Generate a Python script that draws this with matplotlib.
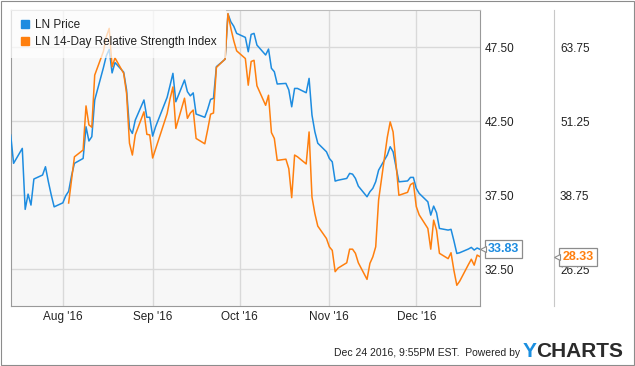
import matplotlib
matplotlib.use('Agg')
import matplotlib.pyplot as plt
from matplotlib.lines import Line2D
from matplotlib.patches import Rectangle
from matplotlib.transforms import blended_transform_factory, offset_copy
import numpy as np
import pandas as pd

plt.rcParams['font.family'] = ['Liberation Sans', 'DejaVu Sans']

BLUE = '#1d8ce0'
ORANGE = '#ff7f0e'
GRID = '#d9d9d9'
TEXT = '#222222'

# trading days, Jul 14 - Dec 23 2016 (Labor Day and Thanksgiving closed)
days = pd.bdate_range('2016-07-14', '2016-12-23')
days = days.drop(pd.to_datetime(['2016-09-05', '2016-11-24']))

price = [
    # Jul
    41.55, 39.64, 40.65, 36.53, 37.56, 36.82, 38.58, 38.85, 39.41, 38.40, 37.50, 36.70,
    # Aug
    36.97, 37.45, 37.75, 38.80, 39.64, 39.97, 42.11, 41.15, 41.44, 43.92, 46.10, 46.90,
    47.34, 45.75, 46.45, 45.80, 44.60, 42.00, 41.66, 42.56, 43.92, 42.75, 42.75,
    # Sep
    41.48, 42.10, 44.10, 44.90, 45.72, 43.80, 45.27, 44.48, 44.20, 44.40, 42.97, 42.75,
    43.30, 43.96, 44.03, 46.17, 46.67, 49.73, 49.20, 48.90, 48.42,
    # Oct
    48.15, 47.18, 48.35, 48.42, 47.63, 46.96, 47.36, 46.06, 45.83, 45.00, 45.04, 44.60,
    43.46, 44.70, 44.70, 44.41, 45.38, 42.90, 41.77, 41.00, 40.42,
    # Nov
    39.97, 39.74, 38.44, 38.50, 38.62, 38.96, 38.91, 38.62, 38.10, 37.38, 37.72, 37.95,
    38.40, 39.18, 40.20, 40.76, 40.42, 38.39, 38.45, 38.69, 38.69,
    # Dec
    37.95, 37.61, 37.04, 36.14, 36.75, 36.30, 35.24, 35.13, 35.18, 34.40, 33.55, 33.60,
    33.85, 33.96, 33.78, 33.92, 33.83,
]

rsi = [
    # Jul
    np.nan, np.nan, np.nan, np.nan, np.nan, np.nan, np.nan, np.nan, np.nan, np.nan, np.nan, np.nan,
    # Aug
    np.nan, np.nan, 37.4, 41.3, 45.2, 46.35, 53.8, 50.6, 50.2, 59.0, 63.0, 65.5,
    66.9, 60.4, 61.9, 59.3, 55.9, 47.5, 45.5, 48.9, 52.8, 49.0, 48.9,
    # Sep
    45.0, 46.5, 52.5, 55.0, 57.0, 50.0, 55.1, 51.7, 52.6, 53.1, 48.3, 47.4,
    49.8, 52.4, 52.6, 60.3, 61.7, 69.4, 66.9, 64.8, 63.1,
    # Oct
    61.8, 57.3, 61.3, 61.5, 57.2, 53.9, 55.6, 49.3, 48.3, 44.6, 44.8, 43.2,
    38.3, 45.5, 45.2, 44.0, 49.4, 38.4, 35.6, 33.5, 31.4,
    # Nov
    30.0, 29.4, 25.8, 26.4, 27.3, 29.6, 29.6, 28.9, 27.3, 24.5, 27.2, 28.3,
    30.0, 37.9, 48.5, 51.1, 49.4, 38.7, 39.2, 40.5, 40.8,
    # Dec
    36.8, 35.4, 33.1, 29.6, 34.5, 32.8, 28.9, 28.0, 29.0, 26.0, 23.5, 24.2,
    27.0, 27.9, 26.9, 28.6, 28.33,
]

month_ticks = pd.to_datetime(['2016-08-01', '2016-09-01', '2016-10-01', '2016-11-01', '2016-12-01'])
month_labels = ["Aug '16", "Sep '16", "Oct '16", "Nov '16", "Dec '16"]
price_ticks = [32.5, 37.5, 42.5, 47.5]
rsi_ticks = [26.25, 38.75, 51.25, 63.75]

W, H = 635, 366
fig = plt.figure(figsize=(W / 100, H / 100), dpi=100)
ax = fig.add_axes([10.7 / W, 1 - 306 / H, (480 - 10.7) / W, (306 - 10) / H])
ax.set_facecolor('#f7f7f7')
ax2 = ax.twinx()

ax.plot(days, price, color=BLUE, lw=1.1, zorder=3)
ax.set_xlim(pd.Timestamp('2016-07-14'), pd.Timestamp('2016-12-23'))
ax.set_ylim(30, 50)
ax.set_xticks(month_ticks)
ax.set_xticklabels(month_labels)
ax.yaxis.tick_right()
ax.set_yticks(price_ticks)
ax.set_yticklabels(['%.2f' % t for t in price_ticks])
ax.tick_params(axis='x', length=0, pad=3.5, labelsize=8.5, colors=TEXT)
ax.tick_params(axis='y', length=0, pad=3.6, labelsize=8.5, colors=TEXT)
ax.grid(color=GRID, lw=1)
ax.set_axisbelow(True)
for side in ['left', 'bottom', 'right']:
    ax.spines[side].set_color('#999999')
ax.spines['top'].set_color('#bbbbbb')

ax2.plot(days, rsi, color=ORANGE, lw=1.1)
ax2.set_ylim(20, 70)
ax2.set_yticks(rsi_ticks)
ax2.set_yticklabels(['%.2f' % t for t in rsi_ticks])
ax2.tick_params(axis='y', length=0, pad=4.3, labelsize=8.5, colors=TEXT)
for side in ['left', 'bottom', 'top']:
    ax2.spines[side].set_visible(False)
ax2.spines['right'].set_position(('outward', 53.3))
ax2.spines['right'].set_color('#c8c8c8')

handles = [Line2D([], [], marker='s', ls='none', color=BLUE, markersize=5.5),
           Line2D([], [], marker='s', ls='none', color=ORANGE, markersize=5.5)]
leg = ax2.legend(handles, ['LN Price', 'LN 14-Day Relative Strength Index'],
                 loc='upper left', bbox_to_anchor=(0, 1), borderaxespad=0,
                 fontsize=8.5, frameon=True, framealpha=0.7, facecolor='white',
                 edgecolor='none', fancybox=False, handletextpad=0.45,
                 labelspacing=0.4, borderpad=0.8, handlelength=0.8)
for t in leg.get_texts():
    t.set_color(TEXT)
leg.set_zorder(10)

# last value tags
tr_price = blended_transform_factory(ax.transAxes, ax.transData)
tr_rsi = blended_transform_factory(ax2.transAxes, ax2.transData)
for tr, val, col, dx in [(tr_price, price[-1], BLUE, 5.5), (tr_rsi, rsi[-1], ORANGE, 59.3)]:
    ax2.annotate('%.2f' % val, xy=(1, val), xycoords=tr, xytext=(dx, 0),
                 textcoords='offset points', ha='left', va='center',
                 fontsize=9, fontweight='bold', color=col, annotation_clip=False,
                 bbox=dict(boxstyle='square,pad=0.25', fc='white', ec='#8c8c8c', lw=0.9),
                 zorder=6)
    ax2.plot([1], [val], transform=offset_copy(tr, fig=fig, x=dx / 0.72 - 5, y=0, units='dots'),
             marker='<', markersize=4.5, mfc='white', mec='#8c8c8c', mew=0.8,
             ls='none', clip_on=False, zorder=7)

# footer
fig.text(520 / W, 1 - 356 / H, 'Dec 24 2016, 9:55PM EST.  Powered by', ha='right',
         va='baseline', fontsize=7.5, color=TEXT)
fig.text(522.5 / W, 1 - 357 / H, 'Y', ha='left', va='baseline', fontsize=15,
         fontweight='bold', color='#1a8fe0')
fig.text(536.5 / W, 1 - 357 / H, 'CHARTS', ha='left', va='baseline', fontsize=15,
         fontweight='bold', color='#2b2b2b')

fig.add_artist(Rectangle((0.5 / W, 1.5 / H), 633 / W, 364 / H, transform=fig.transFigure,
                         fill=False, ec='#8c8c8c', lw=0.8))

fig.savefig('out.png', dpi=100)
